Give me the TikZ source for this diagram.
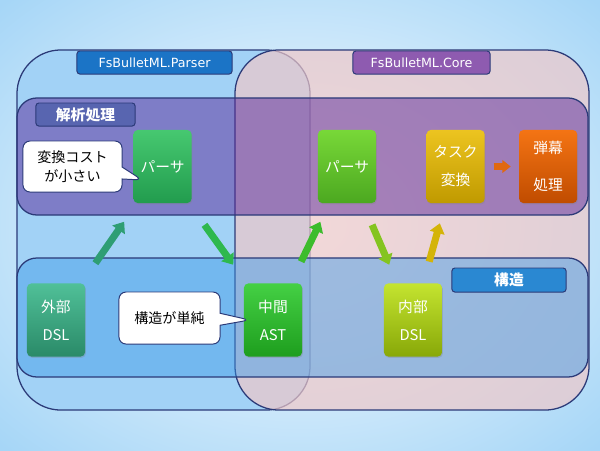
\documentclass[tikz,border=0pt]{standalone}
\usepackage{fontspec}
\newfontfamily\jpfont{Noto Sans CJK JP}
\newfontfamily\pkgfont{DejaVu Sans}
\usepackage{tikz}
\usetikzlibrary{positioning,arrows.meta,calc,shapes.callouts,shadows}
\definecolor{edge}{HTML}{2B3A78}
\definecolor{bgblue}{HTML}{A6D6F7}
\definecolor{parserfill}{HTML}{A2D2F6}
\definecolor{corefill}{HTML}{EEC8C9}
\definecolor{bandpurple}{HTML}{5C2A9A}
\definecolor{bandblue}{HTML}{3A9AE8}
\definecolor{parsertag}{HTML}{1B74C6}
\definecolor{coretag}{HTML}{8E5BB0}
\definecolor{analysistag}{HTML}{5865B0}
\definecolor{structtag}{HTML}{2A88D2}

\begin{document}
\begin{tikzpicture}[x=0.025cm, y=-0.025cm,
  pkg/.style={draw=edge, line width=0.9pt, rounded corners=1.1cm, minimum height=9cm, inner sep=0pt},
  band/.style={draw=edge, line width=0.9pt, rounded corners=0.5cm, minimum width=14.275cm, inner sep=0pt},
  tagbox/.style={draw=edge, line width=0.7pt, rounded corners=2pt, minimum height=0.575cm, inner sep=0pt, text=white},
  unit/.style={rounded corners=3pt, minimum width=1.45cm, minimum height=1.825cm, inner sep=0pt, align=center, text=white,
    font=\jpfont\fontsize{10.5}{20}\selectfont, drop shadow={opacity=0.3, shadow xshift=0.6pt, shadow yshift=-0.9pt}},
  note/.style={rectangle callout, draw=edge, fill=white, line width=0.7pt, rounded corners=5pt, inner sep=0pt, align=center,
    callout pointer width=0.3cm, font=\jpfont\fontsize{10}{13.5}\selectfont},
  flow/.style={line width=5pt, -{Triangle[length=7pt, width=10.5pt]}},
  node distance=1.25cm]
\useasboundingbox (0,0) rectangle (600,450);
\begin{scope}
\clip (0,0) rectangle (600,450);
\shade[inner color=white, outer color=bgblue] (-120,-90) rectangle (720,540);
\end{scope}
\node[pkg, fill=parserfill, minimum width=7.325cm] (parserpkg) at (163.5,230) {};
\node[pkg, fill=corefill, fill opacity=0.7, minimum width=8.85cm] (corepkg) at (412,230) {};
\node[band, fill=bandpurple, fill opacity=0.5, minimum height=2.925cm] (analysis) at (302.5,156.5) {};
\node[band, fill=bandblue, fill opacity=0.45, minimum height=2.975cm] (structure) at (302.5,317.5) {};
\node[tagbox, fill=parsertag, minimum width=3.875cm, font=\pkgfont\fontsize{9}{10}\selectfont] (parsertitle) at (154.5,62.5) {FsBulletML.Parser};
\node[tagbox, fill=coretag, minimum width=3.425cm, font=\pkgfont\fontsize{9}{10}\selectfont] (coretitle) at (421.5,62.5) {FsBulletML.Core};
\node[tagbox, fill=analysistag, minimum width=2.475cm, font=\jpfont\bfseries\fontsize{10.5}{12}\selectfont] (analysistitle) at (85.5,114.5) {解析処理};
\node[tagbox, fill=structtag, minimum width=2.85cm, minimum height=0.6cm, font=\jpfont\bfseries\fontsize{10.5}{12}\selectfont] (structtitle) at (509,280) {構造};
\node[unit, top color={rgb,255:red,70;green,200;blue,112}, bottom color={rgb,255:red,34;green,156;blue,78}] (pparser) at (162.5,166.5) {パーサ};
\node[unit, top color={rgb,255:red,120;green,216;blue,56}, bottom color={rgb,255:red,76;green,168;blue,32}] (cparser) at (347,166.5) {パーサ};
\node[unit, right=of cparser, top color={rgb,255:red,236;green,196;blue,32}, bottom color={rgb,255:red,192;green,154;blue,0}] (task) {タスク\\変換};
\node[unit, right=0.85cm of task, top color={rgb,255:red,244;green,116;blue,20}, bottom color={rgb,255:red,192;green,76;blue,0}, font=\jpfont\fontsize{10.5}{26}\selectfont] (danmaku) {弾幕\\処理};
\node[unit, top color={rgb,255:red,80;green,192;blue,152}, bottom color={rgb,255:red,42;green,138;blue,104}] (extdsl) at (56,320) {外部\\DSL};
\node[unit, top color={rgb,255:red,68;green,208;blue,68}, bottom color={rgb,255:red,30;green,158;blue,30}] (ast) at (273,320) {中間\\AST};
\node[unit, top color={rgb,255:red,196;green,228;blue,48}, bottom color={rgb,255:red,136;green,168;blue,8}] (intdsl) at (413,320) {内部\\DSL};
\node[note, minimum width=2.475cm, minimum height=1.275cm, callout absolute pointer={($(pparser.west)+(9,13.5)$)}] (costnote) at (72.5,166.5) {変換コスト\\が小さい};
\node[note, minimum width=2.525cm, minimum height=1.3cm, callout absolute pointer={($(ast.west)+(6,0)$)}] (simplenote) at (169.5,318) {構造が単純};
\draw[flow, draw={rgb,255:red,46;green,158;blue,116}] ($(extdsl)!0.37!(pparser)$) -- ($(extdsl)!0.64!(pparser)$);
\draw[flow, draw={rgb,255:red,46;green,184;blue,78}] ($(pparser)!0.38!(ast)$) -- ($(pparser)!0.64!(ast)$);
\draw[flow, draw={rgb,255:red,60;green,188;blue,44}] ($(ast)!0.38!(cparser)$) -- ($(ast)!0.64!(cparser)$);
\draw[flow, draw={rgb,255:red,132;green,196;blue,32}] ($(cparser)!0.38!(intdsl)$) -- ($(cparser)!0.64!(intdsl)$);
\draw[flow, draw={rgb,255:red,212;green,180;blue,8}] ($(intdsl)!0.38!(task)$) -- ($(intdsl)!0.63!(task)$);
\draw[flow, line width=4.5pt, -{Triangle[length=6pt, width=9pt]}, draw={rgb,255:red,224;green,104;blue,16}] ($(task.east)!0.26!(danmaku.west)$) -- ($(task.east)!0.76!(danmaku.west)$);
\end{tikzpicture}
\end{document}
